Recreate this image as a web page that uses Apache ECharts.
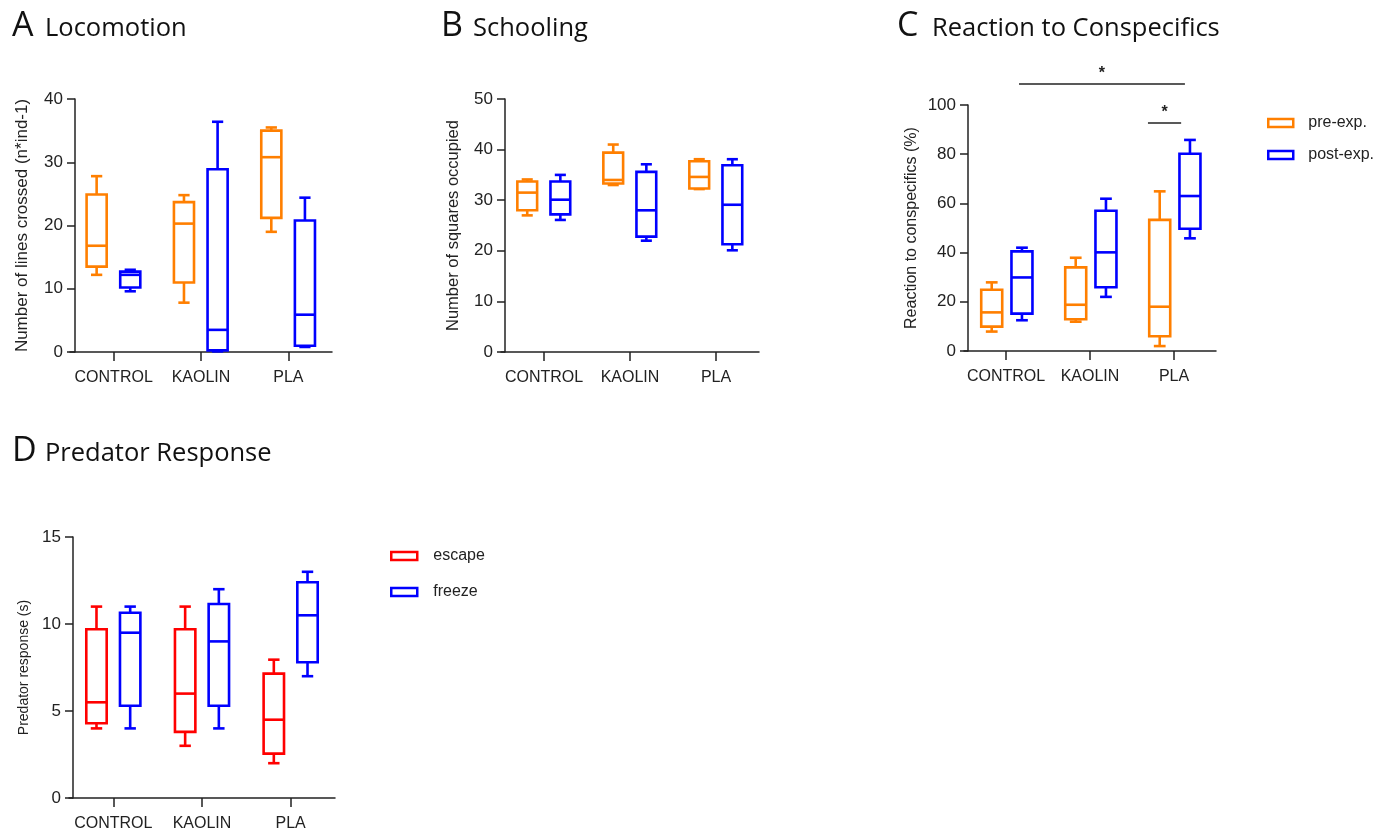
<!DOCTYPE html>
<html>
<head>
<meta charset="utf-8">
<script src="https://cdn.jsdelivr.net/npm/echarts@6/dist/echarts.min.js"></script>
<style>
  html, body { margin: 0; padding: 0; background: #ffffff; }
  #chart { width: 1387px; height: 833px; }
</style>
</head>
<body>
<div id="chart"></div>
<script>
// ---------- DATA ----------
const categories = ['CONTROL', 'KAOLIN', 'PLA'];
// each box: [min, q1, median, q3, max]
const locomotionPre  = [[12.2, 13.5, 16.8, 24.9, 27.8], [7.8, 11.0, 20.3, 23.7, 24.8], [19.0, 21.2, 30.8, 35.0, 35.5]];
const locomotionPost = [[9.6, 10.2, 12.2, 12.7, 13.0], [0.1, 0.25, 3.5, 28.9, 36.4], [0.8, 1.0, 5.9, 20.8, 24.4]];
const schoolingPre   = [[27.0, 28.0, 31.5, 33.7, 34.1], [33.0, 33.3, 34.0, 39.4, 41.0], [32.2, 32.3, 34.6, 37.7, 38.1]];
const schoolingPost  = [[26.1, 27.2, 30.1, 33.7, 35.0], [22.0, 22.8, 28.0, 35.6, 37.1], [20.1, 21.3, 29.1, 36.9, 38.1]];
const conspecPre     = [[7.9, 9.9, 15.7, 24.9, 27.9], [11.9, 12.9, 18.8, 34.0, 37.9], [2.0, 6.0, 18.0, 53.3, 64.9]];
const conspecPost    = [[12.5, 15.2, 29.9, 40.5, 42.0], [22.0, 25.9, 40.1, 57.0, 61.9], [45.8, 49.7, 63.0, 80.2, 85.8]];
const predatorEscape = [[4.0, 4.3, 5.5, 9.7, 11.0], [3.0, 3.8, 6.0, 9.7, 11.0], [2.0, 2.55, 4.5, 7.15, 7.95]];
const predatorFreeze = [[4.0, 5.3, 9.5, 10.65, 11.0], [4.0, 5.3, 9.0, 11.15, 12.0], [7.0, 7.8, 10.5, 12.4, 13.0]];
// significance: [fromCategory, fromGroup, toCategory, toGroup, label]
const significance = [['CONTROL', 'post', 'PLA', 'post', '*'], ['PLA', 'pre', 'PLA', 'post', '*']];

// ---------- STYLE ----------
const ORANGE = '#ff7f00';
const BLUE = '#0000ff';
const RED = '#ff0000';
const INK = '#222222';
const FONT = 'Liberation Sans';
const TFONT = 'Open Sans';

function toData(arr) {
  return arr.map((b, i) => [i].concat(b));
}

function boxRenderer(offset, color, widthFrac) {
  return function (params, api) {
    const c = api.value(0);
    const band = api.size([1, 0])[0];
    const x = api.coord([c, 0])[0] + offset * band;
    const w = band * widthFrac, hw = w / 2, cap = w * 0.28;
    const y = [1, 2, 3, 4, 5].map(i => api.coord([c, api.value(i)])[1]);
    const st = { stroke: color, lineWidth: 2.6, fill: null, lineCap: 'butt' };
    return {
      type: 'group',
      children: [
        { type: 'line', shape: { x1: x, y1: y[3], x2: x, y2: y[4] }, style: st },
        { type: 'line', shape: { x1: x, y1: y[1], x2: x, y2: y[0] }, style: st },
        { type: 'line', shape: { x1: x - cap, y1: y[4], x2: x + cap, y2: y[4] }, style: st },
        { type: 'line', shape: { x1: x - cap, y1: y[0], x2: x + cap, y2: y[0] }, style: st },
        { type: 'rect', shape: { x: x - hw, y: y[3], width: w, height: y[1] - y[3] }, style: Object.assign({}, st, { fill: '#fff' }) },
        { type: 'line', shape: { x1: x - hw, y1: y[2], x2: x + hw, y2: y[2] }, style: st }
      ]
    };
  };
}

function boxSeries(name, arr, gridIdx, offset, color, widthFrac) {
  return {
    type: 'custom', name: name,
    xAxisIndex: gridIdx, yAxisIndex: gridIdx,
    data: toData(arr),
    encode: { x: 0, y: [1, 2, 3, 4, 5] },
    itemStyle: { color: color },
    renderItem: boxRenderer(offset, color, widthFrac),
    silent: true, z: 3
  };
}

const sigData = significance.map((s, i) => [categories.indexOf(s[0]), s[1] === 'pre' ? 0 : 1, categories.indexOf(s[2]), s[3] === 'pre' ? 0 : 1, i]);
const sigLevels = [108.5, 92.7];      // y (axis units) of the bar
const sigEnds = [[0.155, 0.13], [-0.31, 0.085]]; // fractional band offsets for bar ends

function sigRenderer(params, api) {
  const i = api.value(4);
  const band = api.size([1, 0])[0];
  const yv = sigLevels[i];
  const x1 = api.coord([api.value(0), yv])[0] + sigEnds[i][0] * band;
  const x2 = api.coord([api.value(2), yv])[0] + sigEnds[i][1] * band;
  const y = api.coord([api.value(0), yv])[1];
  return {
    type: 'group',
    children: [
      { type: 'line', shape: { x1: x1, y1: y, x2: x2, y2: y }, style: { stroke: INK, lineWidth: 1.5 } },
      { type: 'text', style: { x: (x1 + x2) / 2, y: y - 2, text: significance[i][4], fill: INK, font: 'bold 16px ' + FONT, align: 'center', verticalAlign: 'bottom' } }
    ]
  };
}

const grids = [
  { left: 70, top: 99, width: 262, height: 253 },
  { left: 501, top: 99, width: 258, height: 253 },
  { left: 964, top: 105, width: 252, height: 246 },
  { left: 69, top: 537, width: 266, height: 261 }
];
const yOffsets = [-5, -4, -4, -4];
const yConf = [
  { max: 40, interval: 10, name: 'Number of lines crossed (n*ind-1)', gap: 44, nameSize: 17 },
  { max: 50, interval: 10, name: 'Number of squares occupied', gap: 43, nameSize: 16.5 },
  { max: 100, interval: 20, name: 'Reaction to conspecifics (%)', gap: 48, nameSize: 16 },
  { max: 15, interval: 5, name: 'Predator response (s)', gap: 42, nameSize: 14 }
];

const axisLineStyle = { color: INK, width: 1.5 };
const titleBig = { fontFamily: TFONT, fontSize: 34, fontWeight: 'normal', color: '#111' };
const titleSmall = { fontFamily: TFONT, fontSize: 25.5, fontWeight: 'normal', color: '#111' };

const option = {
  backgroundColor: '#ffffff',
  animation: false,
  title: [
    { text: 'A', left: 12, top: 9, padding: 0, textStyle: titleBig },
    { text: 'Locomotion', left: 45, top: 16, padding: 0, textStyle: titleSmall },
    { text: 'B', left: 441, top: 9, padding: 0, textStyle: titleBig },
    { text: 'Schooling', left: 473, top: 16, padding: 0, textStyle: titleSmall },
    { text: 'C', left: 897, top: 9, padding: 0, textStyle: titleBig },
    { text: 'Reaction to Conspecifics', left: 932, top: 16, padding: 0, textStyle: titleSmall },
    { text: 'D', left: 12, top: 434, padding: 0, textStyle: titleBig },
    { text: 'Predator Response', left: 45, top: 441, padding: 0, textStyle: titleSmall }
  ],
  legend: [
    {
      orient: 'vertical', left: 1262, top: 110, itemWidth: 25, itemHeight: 8, itemGap: 16,
      icon: 'rect', selectedMode: false,
      textStyle: { fontFamily: FONT, fontSize: 16, color: INK, padding: [0, 0, 0, 10] },
      data: [
        { name: 'pre-exp.', itemStyle: { color: '#fff', borderColor: ORANGE, borderWidth: 2.5 } },
        { name: 'post-exp.', itemStyle: { color: '#fff', borderColor: BLUE, borderWidth: 2.5 } }
      ]
    },
    {
      orient: 'vertical', left: 385, top: 543, itemWidth: 26, itemHeight: 8, itemGap: 20,
      icon: 'rect', selectedMode: false,
      textStyle: { fontFamily: FONT, fontSize: 16, color: INK, padding: [0, 0, 0, 11] },
      data: [
        { name: 'escape', itemStyle: { color: '#fff', borderColor: RED, borderWidth: 2.5 } },
        { name: 'freeze', itemStyle: { color: '#fff', borderColor: BLUE, borderWidth: 2.5 } }
      ]
    }
  ],
  grid: grids.map(g => Object.assign({ containLabel: false, outerBoundsMode: 'none' }, g)),
  xAxis: grids.map((g, i) => ({
    type: 'category', gridIndex: i, data: categories, boundaryGap: true,
    axisLine: { show: true, lineStyle: axisLineStyle },
    axisTick: { show: true, alignWithLabel: true, interval: 0, length: 9, lineStyle: axisLineStyle },
    axisLabel: { fontFamily: FONT, fontSize: 16, color: INK, margin: 18, interval: 0 },
    splitLine: { show: false }
  })),
  yAxis: yConf.map((c, i) => ({
    type: 'value', gridIndex: i, min: 0, max: c.max, interval: c.interval, offset: yOffsets[i],
    name: c.name, nameLocation: 'middle', nameGap: c.gap, nameRotate: 90,
    nameTextStyle: { fontFamily: FONT, fontSize: c.nameSize, color: INK },
    axisLine: { show: true, lineStyle: axisLineStyle },
    axisTick: { show: true, length: 8, lineStyle: axisLineStyle },
    axisLabel: { fontFamily: FONT, fontSize: 17, color: INK, margin: 12 },
    splitLine: { show: false }
  })),
  series: [
    boxSeries('pre-exp.', locomotionPre, 0, -0.195, ORANGE, 0.23),
    boxSeries('post-exp.', locomotionPost, 0, 0.19, BLUE, 0.23),
    boxSeries('pre-exp.', schoolingPre, 1, -0.195, ORANGE, 0.23),
    boxSeries('post-exp.', schoolingPost, 1, 0.19, BLUE, 0.23),
    boxSeries('pre-exp.', conspecPre, 2, -0.17, ORANGE, 0.25),
    boxSeries('post-exp.', conspecPost, 2, 0.19, BLUE, 0.25),
    boxSeries('escape', predatorEscape, 3, -0.19, RED, 0.23),
    boxSeries('freeze', predatorFreeze, 3, 0.19, BLUE, 0.23),
    {
      type: 'custom', name: 'significance', xAxisIndex: 2, yAxisIndex: 2,
      data: sigData, encode: { x: [0, 2] }, renderItem: sigRenderer, silent: true, clip: false, z: 4
    }
  ]
};

const chart = echarts.init(document.getElementById('chart'), null, { renderer: 'canvas' });
chart.setOption(option);
</script>
</body>
</html>
